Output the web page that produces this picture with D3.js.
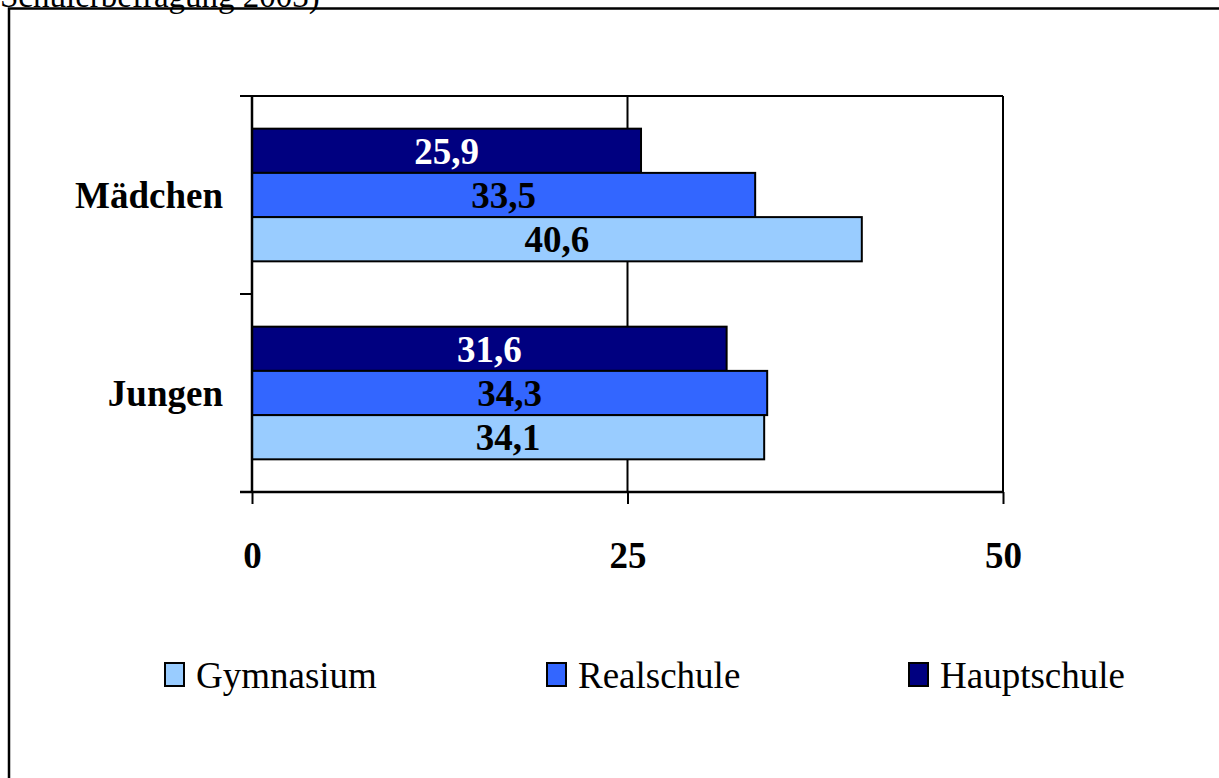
<!DOCTYPE html>
<html>
<head>
<meta charset="utf-8">
<script src="https://cdn.jsdelivr.net/npm/d3@7"></script>
<style>
html,body{margin:0;padding:0;background:#fff;overflow:hidden;}
svg{display:block;}
</style>
</head>
<body>
<svg id="chart" width="1219" height="778"></svg>
<script>
const categories = ["Mädchen", "Jungen"];
const seriesNames = ["Hauptschule", "Realschule", "Gymnasium"];
const hauptschule = [25.9, 31.6];
const realschule = [33.5, 34.3];
const gymnasium = [40.6, 34.1];
const xTicks = [0, 25, 50];
const legendOrder = ["Gymnasium", "Realschule", "Hauptschule"];
const colors = {Hauptschule: "#000080", Realschule: "#3366FF", Gymnasium: "#99CCFF"};
const labelColors = {Hauptschule: "#ffffff", Realschule: "#000000", Gymnasium: "#000000"};
const seriesValues = {Hauptschule: hauptschule, Realschule: realschule, Gymnasium: gymnasium};

const font = "'Liberation Serif','Times New Roman',Times,serif";
const svg = d3.select("#chart");

// heading text (cut off at the top edge, as in the source) and outer frame
svg.append("text").attr("x", 0).attr("y", 7)
  .attr("font-family", font).attr("font-size", 33)
  .text("Schülerbefragung 2003)");
svg.append("rect").attr("x", 9).attr("y", 8.5).attr("width", 1400).attr("height", 1000)
  .attr("fill", "none").attr("stroke", "#000").attr("stroke-width", 2.5);

const pLeft = 252, pRight = 1003, pTop = 96, pBottom = 492;
const x = d3.scaleLinear().domain([0, 50]).range([pLeft, pRight]);
const y0 = d3.scaleBand().domain(categories).range([pTop, pBottom]).paddingInner(0.33).paddingOuter(0.165);
const y1 = d3.scaleBand().domain(seriesNames).range([0, y0.bandwidth()]);
const yb = d3.scaleBand().domain(categories).range([pTop, pBottom]);

const g = svg.append("g");
// gridlines
g.selectAll("line.grid").data(xTicks.slice(1)).join("line")
  .attr("x1", d => x(d)).attr("x2", d => x(d)).attr("y1", pTop).attr("y2", pBottom)
  .attr("stroke", "#000").attr("stroke-width", 2);
// top border
g.append("line").attr("x1", pLeft - 12).attr("x2", pRight).attr("y1", pTop).attr("y2", pTop)
  .attr("stroke", "#000").attr("stroke-width", 2);

// bars
const rows = [];
categories.forEach((c, i) => seriesNames.forEach(s => rows.push({c, s, v: seriesValues[s][i]})));
g.selectAll("rect.bar").data(rows).join("rect")
  .attr("x", x(0)).attr("y", d => y0(d.c) + y1(d.s))
  .attr("width", d => x(d.v) - x(0)).attr("height", y1.bandwidth())
  .attr("fill", d => colors[d.s]).attr("stroke", "#000").attr("stroke-width", 2);
g.selectAll("text.val").data(rows).join("text")
  .attr("x", d => (x(0) + x(d.v)) / 2).attr("y", d => y0(d.c) + y1(d.s) + y1.bandwidth() / 2)
  .attr("dy", "0.35em").attr("text-anchor", "middle")
  .attr("font-family", font).attr("font-weight", "bold").attr("font-size", 37)
  .attr("fill", d => labelColors[d.s])
  .text(d => String(d.v).replace(".", ","));

// y axis
const yBounds = [pTop].concat(categories.map(c => yb(c) + yb.bandwidth()));
g.append("line").attr("x1", pLeft).attr("x2", pLeft).attr("y1", pTop).attr("y2", pBottom)
  .attr("stroke", "#000").attr("stroke-width", 2.5);
g.selectAll("line.ytick").data(yBounds).join("line")
  .attr("x1", pLeft - 12).attr("x2", pLeft).attr("y1", d => d).attr("y2", d => d)
  .attr("stroke", "#000").attr("stroke-width", 2);
g.selectAll("text.cat").data(categories).join("text")
  .attr("x", 223).attr("y", d => yb(d) + yb.bandwidth() / 2)
  .attr("dy", "0.35em").attr("text-anchor", "end")
  .attr("font-family", font).attr("font-weight", "bold").attr("font-size", 37)
  .text(d => d);

// x axis
const xAxis = d3.axisBottom(x).tickValues(xTicks).tickSize(12).tickSizeOuter(0).tickFormat(d3.format("d"));
const ax = svg.append("g").attr("transform", `translate(0,${pBottom})`).call(xAxis);
ax.select(".domain").attr("stroke", "#000").attr("stroke-width", 2.5).attr("d", `M${pLeft - 12},0H${pRight}`);
ax.selectAll(".tick line").attr("stroke", "#000").attr("stroke-width", 2);
ax.selectAll(".tick text").attr("y", 63).attr("dy", "0.35em")
  .attr("font-family", font).attr("font-weight", "bold").attr("font-size", 37).attr("fill", "#000");

// legend
const legendX = {Gymnasium: 164, Realschule: 546, Hauptschule: 908};
const lg = svg.selectAll("g.leg").data(legendOrder).join("g")
  .attr("transform", d => `translate(${legendX[d]},0)`);
lg.append("rect").attr("x", 1).attr("y", 663).attr("width", 19).attr("height", 23)
  .attr("fill", d => colors[d]).attr("stroke", "#000").attr("stroke-width", 2);
lg.append("text").attr("x", 32).attr("y", 675).attr("dy", "0.35em")
  .attr("font-family", font).attr("font-size", 37).text(d => d);
</script>
</body>
</html>
